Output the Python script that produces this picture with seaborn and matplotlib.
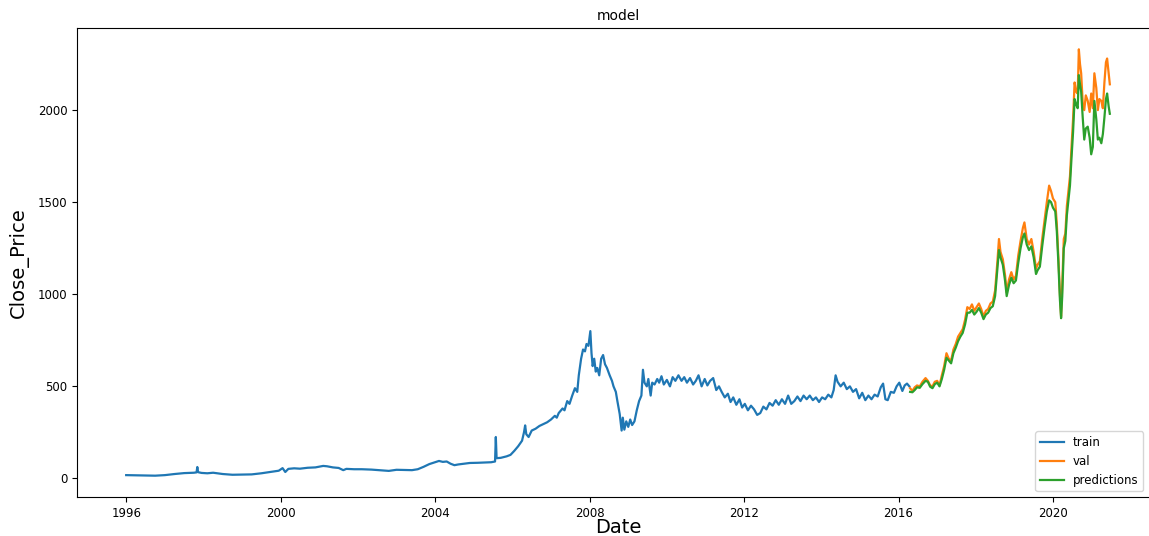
import numpy as np
import pandas as pd
import matplotlib
matplotlib.use("Agg")
import matplotlib.pyplot as plt
import seaborn as sns

# ---- data (decimal years) ----
train_years = [
    1996.00, 1996.25, 1996.50, 1996.75, 1997.00, 1997.25, 1997.50, 1997.75, 1997.82, 1997.84,
    1997.86, 1997.95, 1998.10, 1998.25, 1998.50, 1998.75, 1999.00, 1999.25, 1999.50, 1999.75,
    1999.95, 2000.05, 2000.12, 2000.20, 2000.35, 2000.50, 2000.70, 2000.90, 2001.10, 2001.20,
    2001.35, 2001.50, 2001.62, 2001.70, 2001.90, 2002.10, 2002.35, 2002.60, 2002.80, 2003.00,
    2003.20, 2003.40, 2003.55, 2003.70, 2003.85, 2004.00, 2004.10, 2004.20, 2004.30, 2004.40,
    2004.50, 2004.60, 2004.75, 2004.90, 2005.10, 2005.30, 2005.45, 2005.55, 2005.57, 2005.59,
    2005.70, 2005.85, 2005.95, 2006.05, 2006.15, 2006.25, 2006.30, 2006.33, 2006.36, 2006.42,
    2006.50, 2006.60, 2006.70, 2006.80, 2006.90, 2007.00, 2007.10, 2007.15, 2007.20, 2007.30,
    2007.35, 2007.42, 2007.48, 2007.55, 2007.62, 2007.68, 2007.72, 2007.78, 2007.83, 2007.88,
    2007.92, 2007.97, 2008.02, 2008.05, 2008.08, 2008.12, 2008.16, 2008.20, 2008.25, 2008.30,
    2008.35, 2008.40, 2008.45, 2008.52, 2008.58, 2008.62, 2008.68, 2008.72, 2008.78, 2008.83,
    2008.86, 2008.90, 2008.95, 2009.00, 2009.05, 2009.10, 2009.16, 2009.22, 2009.28, 2009.34,
    2009.38, 2009.42, 2009.48, 2009.52, 2009.58, 2009.62, 2009.68, 2009.75, 2009.80, 2009.86,
    2009.92, 2010.00, 2010.08, 2010.15, 2010.22, 2010.30, 2010.38, 2010.45, 2010.52, 2010.60,
    2010.68, 2010.75, 2010.82, 2010.90, 2010.98, 2011.05, 2011.12, 2011.20, 2011.28, 2011.35,
    2011.42, 2011.50, 2011.58, 2011.65, 2011.72, 2011.80, 2011.88, 2011.95, 2012.02, 2012.10,
    2012.18, 2012.26, 2012.34, 2012.42, 2012.50, 2012.58, 2012.66, 2012.74, 2012.82, 2012.90,
    2012.98, 2013.06, 2013.14, 2013.22, 2013.30, 2013.38, 2013.46, 2013.54, 2013.62, 2013.70,
    2013.78, 2013.86, 2013.94, 2014.02, 2014.10, 2014.18, 2014.26, 2014.32, 2014.37, 2014.42,
    2014.50, 2014.58, 2014.66, 2014.74, 2014.82, 2014.90, 2014.98, 2015.06, 2015.14, 2015.22,
    2015.30, 2015.38, 2015.46, 2015.54, 2015.60, 2015.66, 2015.72, 2015.80, 2015.88, 2015.95,
    2016.02, 2016.10, 2016.16, 2016.22, 2016.28,
]
train_close = [
    18, 17, 16, 15, 18, 24, 29, 31, 33, 62,
    34, 30, 28, 31, 24, 20, 21, 22, 28, 36,
    42, 56, 35, 52, 55, 53, 58, 60, 68, 66,
    60, 57, 45, 52, 50, 50, 48, 44, 41, 47,
    46, 45, 50, 63, 78, 88, 95, 90, 92, 80,
    72, 76, 80, 84, 85, 87, 88, 92, 225, 110,
    112, 120, 128, 150, 175, 205, 250, 288, 240, 225,
    260, 270, 285, 295, 305, 320, 340, 330, 355, 380,
    370, 420, 405, 450, 490, 470, 560, 650, 700, 690,
    730, 720, 800, 680, 610, 650, 580, 600, 560, 650,
    670, 620, 600, 560, 530, 500, 470, 420, 350, 260,
    330, 265, 310, 280, 320, 290, 310, 370, 420, 450,
    590, 520, 500, 540, 450, 520, 510, 540, 520, 555,
    510, 535, 500, 550, 530, 560, 530, 550, 520, 545,
    510, 530, 560, 500, 540, 505, 530, 545, 480, 500,
    470, 440, 460, 415, 440, 400, 430, 385, 405, 370,
    395, 375, 345, 355, 390, 375, 410, 395, 425, 400,
    430, 405, 450, 405, 420, 445, 420, 450, 430, 450,
    425, 440, 415, 440, 430, 455, 440, 480, 560, 525,
    500, 520, 485, 500, 470, 485, 435, 465, 425, 450,
    430, 455, 445, 495, 515, 430, 425, 470, 465, 500,
    520, 475, 505, 515, 500,
]

test_years = [
    2016.30, 2016.36, 2016.42, 2016.48, 2016.55, 2016.62, 2016.70, 2016.76, 2016.82, 2016.88,
    2016.94, 2017.00, 2017.06, 2017.12, 2017.18, 2017.24, 2017.30, 2017.36, 2017.42, 2017.48,
    2017.54, 2017.60, 2017.66, 2017.72, 2017.78, 2017.84, 2017.90, 2017.96, 2018.02, 2018.08,
    2018.14, 2018.20, 2018.26, 2018.32, 2018.38, 2018.44, 2018.50, 2018.56, 2018.60, 2018.64,
    2018.70, 2018.76, 2018.80, 2018.86, 2018.92, 2018.98, 2019.04, 2019.10, 2019.16, 2019.22,
    2019.26, 2019.32, 2019.38, 2019.44, 2019.50, 2019.56, 2019.60, 2019.66, 2019.72, 2019.78,
    2019.84, 2019.90, 2019.95, 2020.00, 2020.06, 2020.10, 2020.14, 2020.18, 2020.21, 2020.24,
    2020.28, 2020.32, 2020.36, 2020.40, 2020.44, 2020.48, 2020.52, 2020.56, 2020.60, 2020.64,
    2020.67, 2020.70, 2020.73, 2020.77, 2020.81, 2020.85, 2020.90, 2020.95, 2020.99, 2021.03,
    2021.07, 2021.12, 2021.16, 2021.20, 2021.25, 2021.29, 2021.33, 2021.37, 2021.40, 2021.44,
    2021.47,
]
val_close = [
    490, 475, 495, 505, 500, 525, 545, 530, 505, 500,
    525, 530, 505, 560, 610, 680, 650, 640, 700, 730,
    770, 790, 810, 860, 930, 920, 945, 910, 930, 950,
    920, 880, 910, 920, 950, 960, 1020, 1180, 1300, 1230,
    1190, 1100, 1010, 1080, 1120, 1080, 1100, 1210, 1290, 1360,
    1390, 1300, 1270, 1300, 1230, 1140, 1160, 1180, 1300, 1400,
    1500, 1590, 1560, 1520, 1500, 1380, 1200, 1000, 880, 1050,
    1300, 1330, 1480, 1560, 1640, 1800, 1950, 2150, 2100, 2090,
    2330, 2250, 2200, 2040, 2000, 2080, 2050, 1990, 2090, 2010,
    2200, 2120, 2000, 2060, 2050, 2010, 2150, 2260, 2280, 2200,
    2140,
]
pred_close = [
    470, 468, 480, 495, 492, 512, 530, 525, 498, 490,
    512, 520, 500, 540, 590, 655, 640, 625, 680, 710,
    745, 770, 790, 835, 900, 900, 915, 890, 905, 925,
    900, 865, 890, 900, 925, 935, 990, 1140, 1240, 1200,
    1160, 1070, 990, 1050, 1090, 1060, 1075, 1170, 1250, 1310,
    1330, 1270, 1240, 1260, 1200, 1110, 1130, 1150, 1260, 1360,
    1450, 1510, 1500, 1470, 1450, 1340, 1170, 970, 870, 990,
    1250, 1290, 1430, 1510, 1590, 1740, 1880, 2060, 2030, 2010,
    2190, 2140, 2100, 1960, 1840, 1900, 1910, 1850, 1760, 1800,
    2050, 1950, 1840, 1850, 1820, 1870, 1960, 2060, 2090, 2020,
    1980,
]


def to_dates(years):
    yrs = np.asarray(years, dtype=float)
    base = pd.to_datetime([f"{int(np.floor(y))}-01-01" for y in yrs])
    frac = yrs - np.floor(yrs)
    return base + pd.to_timedelta(frac * 365.25, unit="D")


train = pd.DataFrame({"Date": to_dates(train_years), "Close": train_close})
valid = pd.DataFrame({"Date": to_dates(test_years), "Close": val_close,
                      "Predictions": pred_close})

plt.rcParams["font.family"] = ["DejaVu Sans"]
plt.rcParams["font.size"] = 8.5

fig = plt.figure(figsize=(11.49, 5.36), dpi=100)
ax = fig.add_axes([77 / 1149, 39 / 536, 1082 / 1149, 469 / 536])

sns.lineplot(data=train, x="Date", y="Close", ax=ax, color="#1f77b4",
             label="train", estimator=None, linewidth=1.6)
sns.lineplot(data=valid, x="Date", y="Close", ax=ax, color="#ff7f0e",
             label="val", estimator=None, linewidth=1.6)
sns.lineplot(data=valid, x="Date", y="Predictions", ax=ax, color="#2ca02c",
             label="predictions", estimator=None, linewidth=1.6)

ax.set_title("model", fontsize=10)
ax.set_xlabel("Date", fontsize=14, labelpad=-1)
ax.set_ylabel("Close_Price", fontsize=14, labelpad=6)
ax.set_yticks([0, 500, 1000, 1500, 2000])
ax.legend(loc="lower right", fontsize=8.5, borderaxespad=0.3,
          bbox_to_anchor=(1147 / 1149, 41 / 536), bbox_transform=fig.transFigure)

fig.savefig("out.png", dpi=100)
